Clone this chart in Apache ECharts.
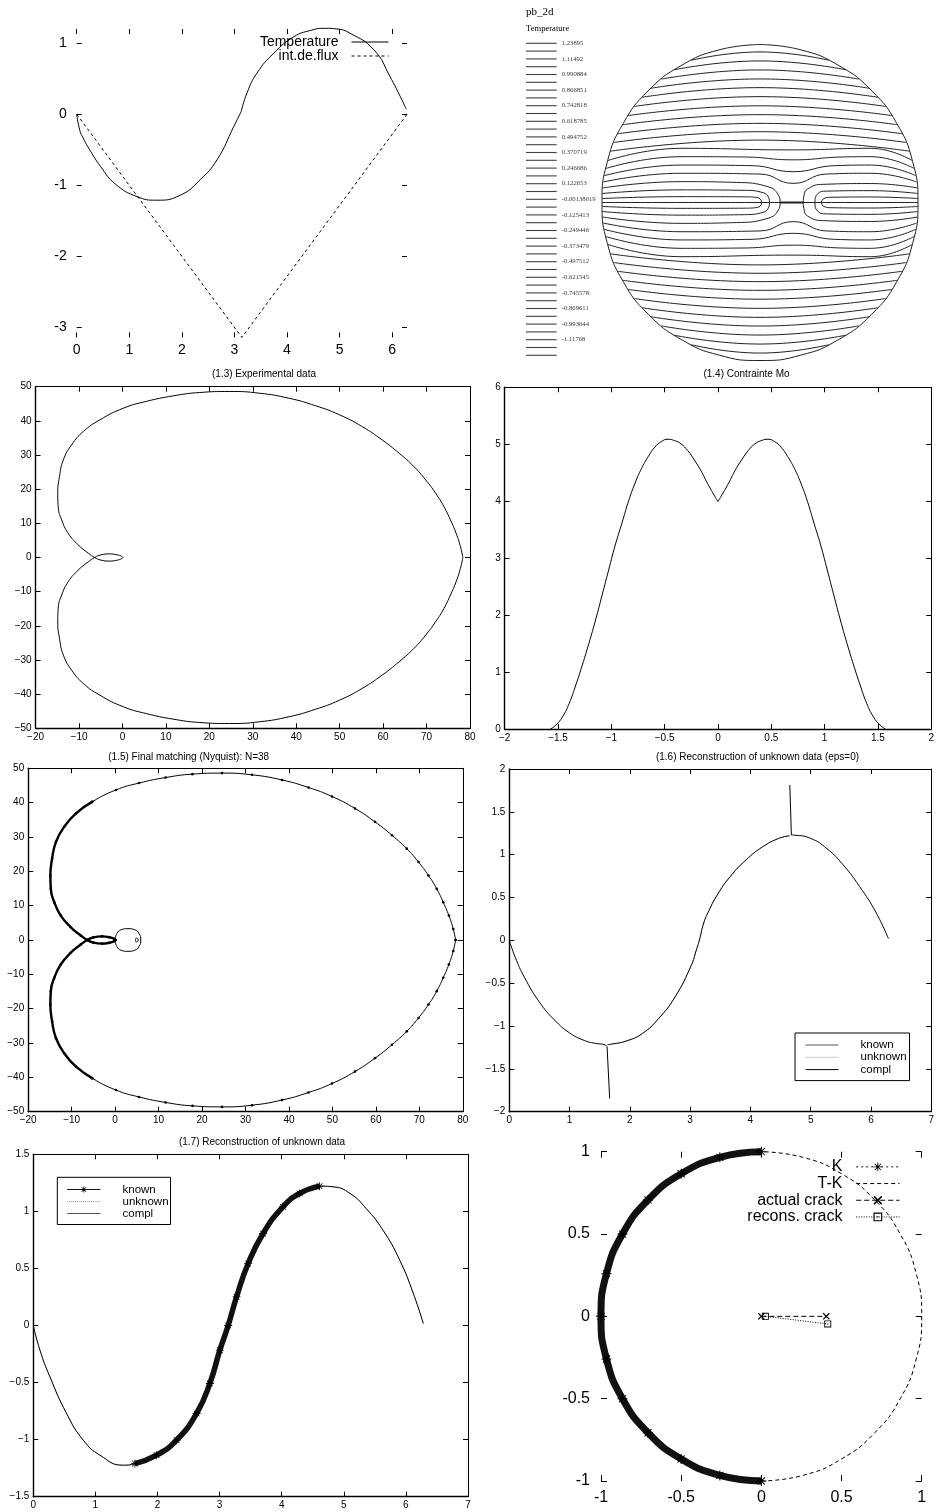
<!DOCTYPE html>
<html>
<head>
<meta charset="utf-8">
<script src="https://cdn.jsdelivr.net/npm/echarts@6.0.0/dist/echarts.min.js"></script>
<style>
  html, body { margin: 0; padding: 0; background: #fff; }
  #main { width: 937px; height: 1512px; }
</style>
</head>
<body>
<div id="main"></div>
<script>
const HELV = "'Liberation Sans', Arial, Helvetica, sans-serif";
const TIMES = "'Liberation Serif', 'Times New Roman', serif";
const STAR = "path://M9,0L11,0L11,20L9,20Z M0,9L20,9L20,11L0,11Z M2.2,3.6L3.6,2.2L17.8,16.4L16.4,17.8Z M16.4,2.2L17.8,3.6L3.6,17.8L2.2,16.4Z";
const CROSS = "path://M0,1.2L1.2,0L10,8.8L8.8,10Z M8.8,0L10,1.2L1.2,10L0,8.8Z";
const BOX = "path://M0,0L10,0L10,10L0,10Z M1.3,1.3L1.3,8.7L8.7,8.7L8.7,1.3Z M4.3,4.3L5.7,4.3L5.7,5.7L4.3,5.7Z";

// top left: temperature and flux integral on the boundary
const tempX = [0, 0.06, 0.12, 0.215, 0.456, 0.74, 1.15, 1.52, 1.97, 2.35, 2.67, 2.99, 3.13, 3.24, 3.43, 3.75, 4.13, 4.45, 4.73, 4.95, 5.2, 5.65, 5.96, 6.27];
const tempY = [0, -0.23, -0.33, -0.46, -0.737, -0.985, -1.16, -1.21, -1.14, -0.92, -0.64, -0.17, 0.04, 0.3, 0.58, 0.86, 1.09, 1.18, 1.21, 1.2, 1.14, 0.91, 0.53, 0.07];
const fluxX = [0, 3.1416, 6.2832];
const fluxY = [0, -3.1416, 0];
const p1XTicks = [0, 1, 2, 3, 4, 5, 6];
const p1YTicks = [-3, -2, -1, 0, 1];

// top right: isotherms in the disk
const contourLevels = ["1.23895", "1.11492", "0.990884", "0.866851", "0.742818", "0.618785", "0.494752", "0.370719", "0.246686", "0.122653",
  "-0.00138019", "-0.125413", "-0.249446", "-0.373479", "-0.497512", "-0.621545", "-0.745578", "-0.869611", "-0.993644", "-1.11768"];
const contourLegendRows = 41;
const unitCircle = [[0, 1], [-0.259, 0.966], [-0.5, 0.866], [-0.707, 0.707], [-0.866, 0.5], [-0.966, 0.259], [-1, 0],
  [-0.966, -0.259], [-0.866, -0.5], [-0.707, -0.707], [-0.5, -0.866], [-0.259, -0.966], [0, -1],
  [0.259, -0.966], [0.5, -0.866], [0.707, -0.707], [0.866, -0.5], [0.966, -0.259], [1, 0],
  [0.966, 0.259], [0.866, 0.5], [0.707, 0.707], [0.5, 0.866], [0.259, 0.966], [0, 1]];
const hairpinEdge = [0.025, 0.057, 0.092];
const hairpinLeft = [
  [[-0.5, 0.037], [-0.1, 0.036], [-0.02, 0.032], [0.01, 0]],
  [[-0.5, 0.08], [-0.1, 0.077], [0.02, 0.062], [0.055, 0.03], [0.06, 0]],
  [[-0.5, 0.132], [-0.15, 0.127], [0.05, 0.1], [0.115, 0.05], [0.127, 0]],
];
const hairpinRight = [
  [[0.7, 0.035], [0.45, 0.033], [0.405, 0.025], [0.39, 0]],
  [[0.7, 0.075], [0.42, 0.072], [0.365, 0.055], [0.348, 0]],
  [[0.7, 0.12], [0.4, 0.115], [0.3, 0.085], [0.278, 0.04], [0.274, 0]],
];
const dipEdge = [0.13, 0.17, 0.215, 0.265];
const dipLines = [
  [[-0.5, 0.185], [0, 0.18], [0.21, 0.121], [0.42, 0.18], [0.7, 0.185]],
  [[-0.5, 0.237], [-0.05, 0.233], [0.21, 0.195], [0.47, 0.233], [0.7, 0.237]],
  [[-0.5, 0.29], [-0.1, 0.288], [0.21, 0.27], [0.52, 0.288], [0.7, 0.29]],
  [[-0.5, 0.343], [0.21, 0.333], [0.7, 0.343]],
];
const plainEdge = [0.325, 0.38, 0.435, 0.492, 0.55, 0.608, 0.666, 0.723, 0.781, 0.84, 0.9];
const plainCenter = [0.395, 0.448, 0.501, 0.556, 0.612, 0.67, 0.727, 0.782, 0.839, 0.896, 0.953];
const crackSegment = [[0.127, 0], [0.274, 0]];

// (1.3) and (1.5): Nyquist curve, upper branch from w=0 to the origin
const nyquistUpper = [[78.35, 0], [77.8, 3.2], [76.8, 7.1], [75.5, 11], [74, 14.9], [72.1, 18.8], [69.8, 22.7],
  [67.1, 26.6], [63.7, 30.5], [59.8, 34.4], [55.2, 38.3], [49.9, 41.8], [44.5, 44.4], [38.4, 46.6],
  [31.5, 48.1], [24.6, 48.6], [17.8, 48.3], [11.6, 47.3], [5.5, 45.7], [0.2, 43.7], [-5.2, 40.3],
  [-9, 36.9], [-11.7, 33], [-13.6, 28.6], [-14.5, 23.7], [-14.9, 18.8], [-14.8, 14.9], [-14, 11],
  [-12.5, 7.1], [-10.2, 3.7], [-7.9, 1.3], [-6.4, 0], [-5, -0.75], [-3, -1.05], [-1.3, -0.8], [-0.2, -0.35], [0.1, 0]];
// conjugate branch (negative frequencies)
const nyquistLower = nyquistUpper.map(([x, y]) => [x, -y]);
const modelLoop = [[0, 0], [0.4, 1.9], [1.4, 3], [2.95, 3.3], [4.5, 3], [5.5, 1.9], [5.9, 0], [5.5, -1.9],
  [4.5, -3], [2.95, -3.3], [1.4, -3], [0.4, -1.9], [0, 0]];
const modelTinyLoop = [[4.68, 0], [4.77, 0.45], [4.98, 0.6], [5.19, 0.45], [5.28, 0], [5.19, -0.45], [4.98, -0.6], [4.77, -0.45], [4.68, 0]];
const nyqXTicks = [-20, -10, 0, 10, 20, 30, 40, 50, 60, 70, 80];
const nyqYTicks = [-50, -40, -30, -20, -10, 0, 10, 20, 30, 40, 50];

// (1.4) Contrainte Mo
const moLeft = [[-1.571, 0], [-1.519, 0.07], [-1.457, 0.217], [-1.395, 0.451], [-1.333, 0.773], [-1.272, 1.124],
  [-1.21, 1.505], [-1.148, 1.914], [-1.086, 2.354], [-1.025, 2.793], [-0.963, 3.232], [-0.901, 3.612],
  [-0.84, 3.993], [-0.778, 4.315], [-0.716, 4.578], [-0.654, 4.783], [-0.593, 4.947], [-0.531, 5.047],
  [-0.469, 5.088], [-0.407, 5.064], [-0.346, 5.006], [-0.284, 4.889], [-0.222, 4.725], [-0.16, 4.537],
  [-0.099, 4.315], [-0.037, 4.11], [0, 3.993]];
const moRight = [[0, 3.993], [0.037, 4.11], [0.099, 4.315], [0.16, 4.537], [0.222, 4.725], [0.284, 4.889],
  [0.346, 5.006], [0.407, 5.064], [0.469, 5.088], [0.531, 5.047], [0.593, 4.947], [0.654, 4.783],
  [0.716, 4.578], [0.778, 4.315], [0.84, 3.993], [0.901, 3.612], [0.963, 3.232], [1.025, 2.793],
  [1.086, 2.354], [1.148, 1.914], [1.21, 1.505], [1.272, 1.124], [1.333, 0.773], [1.395, 0.451],
  [1.457, 0.217], [1.519, 0.07], [1.571, 0]];
const moXTicks = [-2, -1.5, -1, -0.5, 0, 0.5, 1, 1.5, 2];
const moYTicks = [0, 1, 2, 3, 4, 5, 6];

// (1.6) reconstruction, eps=0
const p6Left = [[0, 0], [0.1, -0.2], [0.25, -0.43], [0.5, -0.72], [0.75, -0.93], [1, -1.08],
  [1.25, -1.17], [1.45, -1.205], [1.57, -1.215], [1.622, -1.24]];
const p6DownSpike = [[1.622, -1.24], [1.665, -1.845]];
const p6Middle = [[1.63, -1.218], [1.675, -1.214], [1.94, -1.175], [2.21, -1.086], [2.48, -0.91], [2.75, -0.66],
  [3.02, -0.29], [3.1, -0.12], [3.16, 0.02], [3.22, 0.19], [3.3, 0.33], [3.45, 0.53], [3.66, 0.74], [3.93, 0.94],
  [4.2, 1.09], [4.47, 1.19], [4.65, 1.22]];
const p6UpSpike = [[4.654, 1.813], [4.68, 1.23]];
const p6Right = [[4.68, 1.23], [4.73, 1.228], [5, 1.19], [5.27, 1.07], [5.54, 0.88], [5.81, 0.63], [6.08, 0.33], [6.29, 0.02]];
const p6XTicks = [0, 1, 2, 3, 4, 5, 6, 7];
const p6YTicks = [-2, -1.5, -1, -0.5, 0, 0.5, 1, 1.5, 2];

// (1.7) reconstruction
const p7X = [0, 0.107, 0.268, 0.536, 0.805, 1.073, 1.449, 1.636, 1.985, 2.307, 2.629, 2.843, 3.004, 3.138,
  3.273, 3.46, 3.7, 4.02, 4.29, 4.61, 4.83, 5.1, 5.36, 5.63, 5.9, 6.12, 6.28];
const p7Y = [0, -0.216, -0.45, -0.771, -1.005, -1.136, -1.224, -1.21, -1.136, -1.005, -0.771, -0.508, -0.216, 0,
  0.251, 0.543, 0.806, 1.04, 1.157, 1.221, 1.215, 1.157, 1.025, 0.836, 0.573, 0.28, 0.018];
const p7KnownFrom = 1.63;
const p7KnownTo = 4.62;
const p7XTicks = [0, 1, 2, 3, 4, 5, 6, 7];
const p7YTicks = [-1.5, -1, -0.5, 0, 0.5, 1, 1.5];

// bottom right: crack identification
const actualCrack = [[0, 0], [0.405, 0]];
const reconsCrack = [[0.025, 0], [0.414, -0.046]];
const crackTicks = [-1, -0.5, 0, 0.5, 1];

const pairs = (xs, ys) => xs.map((x, i) => [x, ys[i]]);
const matlabNum = (v) => String(v).replace("-", "\u2212");
const rim = (v) => Math.sqrt(1 - v * v);

const grids = [];
const xAxes = [];
const yAxes = [];
const series = [];
const legends = [];
const titles = [];

function framedAxes(rect, xSpec, ySpec, style) {
  const gi = grids.length;
  grids.push({ left: rect[0], top: rect[1], width: rect[2], height: rect[3] });
  const make = (position, spec, showLabel, margin, width) => ({
    type: "value",
    gridIndex: gi,
    position: position,
    min: spec.min,
    max: spec.max,
    axisLine: { show: style.frame, onZero: false, lineStyle: { color: "#000", width: width } },
    axisTick: { show: true, inside: true, length: style.tick, customValues: spec.ticks, lineStyle: { color: "#000", width: 1 } },
    axisLabel: {
      show: showLabel, customValues: spec.ticks, margin: margin, formatter: style.format,
      fontSize: style.fontSize, fontFamily: HELV, color: "#000",
    },
    splitLine: { show: false },
  });
  xAxes.push(make("bottom", xSpec, true, style.xMargin, 1.4), make("top", xSpec, false, 0, 1));
  yAxes.push(make("left", ySpec, true, style.yMargin, 1.4), make("right", ySpec, false, 0, 1));
  return { xAxisIndex: xAxes.length - 2, yAxisIndex: yAxes.length - 2 };
}

function hiddenAxes(rect, xr, yr, inverseY) {
  const gi = grids.length;
  grids.push({ left: rect[0], top: rect[1], width: rect[2], height: rect[3] });
  xAxes.push({ type: "value", gridIndex: gi, min: xr[0], max: xr[1], show: false });
  yAxes.push({ type: "value", gridIndex: gi, min: yr[0], max: yr[1], show: false, inverse: !!inverseY });
  return { xAxisIndex: xAxes.length - 1, yAxisIndex: yAxes.length - 1 };
}

function line(axes, data, opts) {
  return Object.assign({
    type: "line",
    xAxisIndex: axes.xAxisIndex,
    yAxisIndex: axes.yAxisIndex,
    data: data,
    symbol: "none",
    showSymbol: false,
    clip: false,
    silent: true,
    lineStyle: { color: "#000", width: 1 },
    itemStyle: { color: "#000" },
  }, opts);
}

function matlabTitle(text, x, y) {
  titles.push({
    text: text, left: x, top: y, textAlign: "center", padding: 0,
    textStyle: { fontSize: 10, fontWeight: "normal", fontFamily: HELV, color: "#000" },
  });
}

const gnuplot = { frame: false, tick: 5, fontSize: 14, xMargin: 6, yMargin: 10, format: (v) => String(v) };
const matlab = { frame: true, tick: 5, fontSize: 10, xMargin: 4, yMargin: 4, format: matlabNum };

// ---- top left
const a1 = framedAxes([76.7, 29, 330.3, 308.4],
  { min: 0, max: 6.2832, ticks: p1XTicks }, { min: -3.1416, max: 1.2, ticks: p1YTicks }, gnuplot);
const temp = pairs(tempX, tempY);
series.push(line(a1, temp.slice(0, 13), { name: "Temperature", smooth: true }));
series.push(line(a1, temp.slice(12), { name: "Temperature", smooth: true }));
series.push(line(a1, pairs(fluxX, fluxY), { name: "int.de.flux", lineStyle: { color: "#000", width: 1, type: [3, 3] } }));
legends.push({
  orient: "vertical", align: "right", right: 937 - 389, top: 35, padding: 0,
  itemWidth: 37, itemHeight: 10, itemGap: 0, selectedMode: false, lineStyle: { width: 1 },
  textStyle: { fontSize: 14, lineHeight: 14, fontFamily: HELV, color: "#000", padding: [0, 8, 0, 0] },
  data: [{ name: "Temperature", itemStyle: { opacity: 0 } }, { name: "int.de.flux", itemStyle: { opacity: 0 } }],
});

// ---- top right: disk with isotherms
const disk = hiddenAxes([602, 44.5, 316, 316], [-1, 1], [-1, 1]);
const iso = { smooth: true, lineStyle: { color: "#222", width: 1 } };
series.push(line(disk, unitCircle, iso));
series.push(line(disk, [[-1, 0], [1, 0]], iso));
series.push(line(disk, crackSegment, { lineStyle: { color: "#222", width: 2 } }));
function hairpin(arm, edgeV, side) {
  const upper = [[side * rim(edgeV), edgeV]].concat(arm);
  const lower = upper.slice(0, -1).reverse().map(([u, v]) => [u, -v]);
  return upper.concat(lower);
}
hairpinLeft.forEach((arm, i) => series.push(line(disk, hairpin(arm, hairpinEdge[i], -1), iso)));
hairpinRight.forEach((arm, i) => series.push(line(disk, hairpin(arm, hairpinEdge[i], 1), iso)));
const isotherms = [];
dipLines.forEach((pts, i) => {
  isotherms.push([[-rim(dipEdge[i]), dipEdge[i]]].concat(pts, [[rim(dipEdge[i]), dipEdge[i]]]));
});
plainEdge.forEach((e, i) => {
  isotherms.push([[-rim(e), e], [0, plainCenter[i]], [rim(e), e]]);
});
for (const pts of isotherms) {
  series.push(line(disk, pts, iso));
  series.push(line(disk, pts.map(([u, v]) => [u, -v]), iso));
}
const keyAxes = hiddenAxes([526, 43.3, 30.7, 312], [0, 1], [0, contourLegendRows - 1], true);
const keyRows = [];
for (let i = 0; i < contourLegendRows; i++) {
  const text = i % 2 === 0 ? contourLevels[i / 2] : undefined;
  keyRows.push({ value: [0.5, i], label: { show: text !== undefined, formatter: text || "" } });
}
series.push({
  type: "scatter", xAxisIndex: keyAxes.xAxisIndex, yAxisIndex: keyAxes.yAxisIndex, data: keyRows, silent: true,
  symbol: "rect", symbolSize: [30.7, 1.1], itemStyle: { color: "#111" },
  label: { position: "right", distance: 5, fontFamily: TIMES, fontSize: 6.7, color: "#000" },
});
titles.push({ text: "pb_2d", left: 526, top: 7, padding: 0, textStyle: { fontFamily: TIMES, fontSize: 11, fontWeight: "normal", color: "#000" } });
titles.push({ text: "Temperature", left: 526, top: 24, padding: 0, textStyle: { fontFamily: TIMES, fontSize: 8.6, fontWeight: "normal", color: "#000" } });

// ---- (1.3)
const a3 = framedAxes([35.6, 386.7, 434.4, 341.6],
  { min: -20, max: 80, ticks: nyqXTicks }, { min: -50, max: 50, ticks: nyqYTicks }, matlab);
series.push(line(a3, nyquistUpper, { smooth: true }));
series.push(line(a3, nyquistLower, { smooth: true }));
matlabTitle("(1.3) Experimental data", 264, 369);

// ---- (1.4)
const a4 = framedAxes([504.7, 387.3, 432, 341.7],
  { min: -2, max: 2, ticks: moXTicks }, { min: 0, max: 6, ticks: moYTicks }, matlab);
series.push(line(a4, moLeft, { smooth: true }));
series.push(line(a4, moRight, { smooth: true }));
matlabTitle("(1.4) Contrainte Mo", 746.5, 369);

// ---- (1.5)
const a5 = framedAxes([28.2, 768.3, 434.6, 343.4],
  { min: -20, max: 80, ticks: nyqXTicks }, { min: -50, max: 50, ticks: nyqYTicks }, matlab);
const dots = { smooth: true, showSymbol: true, symbol: "circle", symbolSize: 2.6 };
series.push(line(a5, nyquistUpper, dots));
series.push(line(a5, nyquistLower, dots));
series.push(line(a5, nyquistUpper.slice(20), { smooth: true, lineStyle: { color: "#000", width: 2.4 } }));
series.push(line(a5, nyquistLower.slice(20), { smooth: true, lineStyle: { color: "#000", width: 2.4 } }));
series.push(line(a5, modelLoop, { smooth: true }));
series.push(line(a5, modelTinyLoop, { smooth: true }));
matlabTitle("(1.5) Final matching (Nyquist): N=38", 188.7, 752);

// ---- (1.6)
const a6 = framedAxes([509.3, 769, 434.7, 342.7],
  { min: 0, max: 7, ticks: p6XTicks }, { min: -2, max: 2, ticks: p6YTicks }, matlab);
series.push(line(a6, p6Left, { name: "known", smooth: true }));
series.push(line(a6, p6DownSpike, { name: "known" }));
series.push(line(a6, p6Middle, { name: "unknown", smooth: true, lineStyle: { color: "#999", width: 1, type: "dotted" } }));
series.push(line(a6, p6Middle, { name: "compl", smooth: true }));
series.push(line(a6, p6UpSpike, { name: "known" }));
series.push(line(a6, p6Right, { name: "known", smooth: true }));
matlabTitle("(1.6) Reconstruction of unknown data (eps=0)", 757.5, 752);
legends.push({
  orient: "vertical", left: 795, top: 1033, padding: [6, 3, 5, 10], selectedMode: false,
  borderColor: "#000", borderWidth: 1, backgroundColor: "#fff",
  itemWidth: 33, itemHeight: 8, itemGap: 0.3, lineStyle: { width: 1 },
  textStyle: { fontSize: 11.5, lineHeight: 11, fontFamily: HELV, color: "#000", padding: [0, 0, 0, 17] },
  data: [
    { name: "known", itemStyle: { opacity: 0 }, lineStyle: { color: "#555" } },
    { name: "unknown", itemStyle: { opacity: 0 } },
    { name: "compl", itemStyle: { opacity: 0 } },
  ],
});

// ---- (1.7)
const a7 = framedAxes([33.3, 1154.3, 434.7, 342.4],
  { min: 0, max: 7, ticks: p7XTicks }, { min: -1.5, max: 1.5, ticks: p7YTicks }, matlab);
const p7 = pairs(p7X, p7Y);
const p7Known = p7.filter(([x]) => x >= p7KnownFrom && x <= p7KnownTo);
series.push(line(a7, p7, { name: "unknown ", smooth: true, lineStyle: { color: "#999", width: 1, type: "dotted" } }));
series.push(line(a7, p7, { name: "compl ", smooth: true }));
series.push(line(a7, p7Known, {
  name: "known ", smooth: true, showSymbol: true, symbol: STAR, symbolSize: 8,
  lineStyle: { color: "#111", width: 5.5 },
}));
matlabTitle("(1.7) Reconstruction of unknown data", 262, 1137.5);
legends.push({
  orient: "vertical", left: 57.3, top: 1177.3, padding: [6.2, 2, 5, 9.4], selectedMode: false,
  borderColor: "#000", borderWidth: 1, backgroundColor: "#fff",
  itemWidth: 33.3, itemHeight: 8, itemGap: 0, lineStyle: { width: 1 },
  formatter: (name) => name.trim(),
  textStyle: { fontSize: 11.5, lineHeight: 11, fontFamily: HELV, color: "#000", padding: [0, 0, 0, 17] },
  data: [
    { name: "known " },
    { name: "unknown ", itemStyle: { opacity: 0 } },
    { name: "compl ", itemStyle: { opacity: 0 }, lineStyle: { color: "#555" } },
  ],
});

// ---- bottom right
const a8 = framedAxes([601, 1151.7, 320.7, 329.3],
  { min: -1, max: 1, ticks: crackTicks }, { min: -1, max: 1, ticks: crackTicks },
  Object.assign({}, gnuplot, { tick: 6, fontSize: 16, xMargin: 9, yMargin: 11 }));
series.push(line(a8, unitCircle.slice(0, 13), {
  name: "K", smooth: true, showSymbol: true, symbol: STAR, symbolSize: 10,
  lineStyle: { color: "#111", width: 7 },
}));
series.push(line(a8, unitCircle.slice(12), { name: "T-K", smooth: true, lineStyle: { color: "#000", width: 1, type: [4, 3] } }));
series.push(line(a8, actualCrack, {
  name: "actual crack", showSymbol: true, symbol: CROSS, symbolSize: 7, lineStyle: { color: "#000", width: 1, type: [5, 3] },
}));
series.push(line(a8, reconsCrack, {
  name: "recons. crack", showSymbol: true, symbol: BOX, symbolSize: 7, lineStyle: { color: "#000", width: 1, type: [1, 1.5] },
}));
legends.push({
  orient: "vertical", align: "right", right: 937 - 900, top: 1158.5, padding: 0,
  itemWidth: 43.3, itemHeight: 11, itemGap: 0, selectedMode: false, lineStyle: { width: 1 },
  textStyle: { fontSize: 16, lineHeight: 16.7, fontFamily: HELV, color: "#000", padding: [0, 8.7, 0, 0] },
  data: [
    { name: "K", lineStyle: { type: [2, 3] } },
    { name: "T-K", itemStyle: { opacity: 0 } },
    { name: "actual crack" },
    { name: "recons. crack" },
  ],
});

const chart = echarts.init(document.getElementById("main"), null, { renderer: "canvas" });
chart.setOption({
  animation: false,
  backgroundColor: "#fff",
  title: titles,
  legend: legends,
  grid: grids,
  xAxis: xAxes,
  yAxis: yAxes,
  series: series,
});
</script>
</body>
</html>
